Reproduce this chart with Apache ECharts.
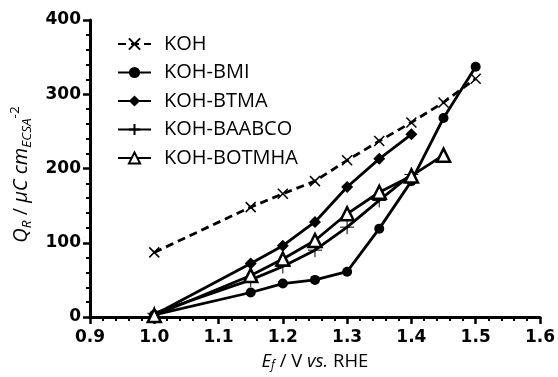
<!DOCTYPE html>
<html lang="en">
<head>
<meta charset="utf-8">
<title>QR vs Ef</title>
<style type="text/css">
  *{padding:0;margin:0;}
  body,html{background:#fff;}
  #chart{width:558px;height:377px;}
</style>
</head>
<body>
<div id="chart"></div>
<script src="https://cdn.jsdelivr.net/npm/echarts@6/dist/echarts.min.js"></script>
<script type="text/javascript">
// data (potential in V vs. RHE, charge in uC cm-2)
var seriesNames = ['KOH', 'KOH-BMI', 'KOH-BTMA', 'KOH-BAABCO', 'KOH-BOTMHA'];

var xKOH = [1.0, 1.15, 1.2, 1.25, 1.3, 1.35, 1.4, 1.45, 1.5];
var yKOH = [87, 148, 166, 183, 211, 237, 262, 289, 321];

var xBMI = [1.0, 1.15, 1.2, 1.25, 1.3, 1.35, 1.4, 1.45, 1.5];
var yBMI = [3, 33, 45, 50, 61, 119, 183, 268, 337];

var xBTMA = [1.0, 1.15, 1.2, 1.25, 1.3, 1.35, 1.4];
var yBTMA = [3, 72, 96, 128, 175, 213, 246];

var xBAABCO = [1.0, 1.15, 1.2, 1.25, 1.3, 1.35, 1.4];
var yBAABCO = [5, 50, 68, 90, 121, 157, 192];

var xBOTMHA = [1.0, 1.15, 1.2, 1.25, 1.3, 1.35, 1.4, 1.45];
var yBOTMHA = [2, 56, 78, 103, 139, 168, 190, 218];

function pairs(xs, ys) {
    var out = [];
    for (var i = 0; i < xs.length; i++) out.push([xs[i], ys[i]]);
    return out;
}

var crossPath = 'path://M0,0L10,10M10,0L0,10';
var plusPath = 'path://M5,0L5,10M0,5L10,5';

var chart = echarts.init(document.getElementById('chart'));

function lineSeries(name, data, symbol, size, item, dashed) {
    return {
        name: name,
        type: 'line',
        data: data,
        symbol: symbol,
        symbolSize: size,
        showAllSymbol: true,
        animation: false,
        lineStyle: { color: '#000', width: 2.8, type: dashed ? [8, 5] : 'solid' },
        itemStyle: item
    };
}

var option = {
    backgroundColor: '#fff',
    animation: false,
    grid: { left: 90, right: 18, top: 20, bottom: 58 },
    legend: {
        orient: 'vertical',
        left: 112,
        top: 28.5,
        itemWidth: 33,
        itemHeight: 14,
        itemGap: 7.5,
        data: seriesNames,
        textStyle: { fontFamily: 'Open Sans', fontSize: 20, lineHeight: 21, color: '#000', padding: [0, 0, 0, 8] }
    },
    xAxis: {
        type: 'value',
        min: 0.9,
        max: 1.6,
        interval: 0.1,
        name: '{i|E}{sub|f}{n| / V }{i|vs.}{n| RHE}',
        nameLocation: 'middle',
        nameGap: 34,
        nameTextStyle: {
            rich: {
                i: { fontFamily: 'Open Sans', fontSize: 18.5, fontStyle: 'italic', color: '#000' },
                n: { fontFamily: 'Open Sans', fontSize: 18.5, color: '#000' },
                sub: { fontFamily: 'Open Sans', fontSize: 12, fontStyle: 'italic', color: '#000', verticalAlign: 'bottom', padding: [9, 0, 0, 0] }
            }
        },
        splitLine: { show: false },
        axisLine: { onZero: false, lineStyle: { color: '#000', width: 3 } },
        axisTick: { length: 7, lineStyle: { color: '#000', width: 2.5 } },
        minorTick: { show: true, splitNumber: 5, length: 4, lineStyle: { color: '#000', width: 2 } },
        axisLabel: {
            margin: 12,
            fontFamily: 'DejaVu Sans',
            fontWeight: 'bold',
            fontSize: 17,
            color: '#000',
            formatter: function (v) { return v.toFixed(1); }
        }
    },
    yAxis: {
        type: 'value',
        min: 0,
        max: 400,
        interval: 100,
        name: '{i|Q}{sub|R}{n| / }{i|μC cm}{sub|ECSA}{sup|-2}',
        nameLocation: 'middle',
        nameRotate: 90,
        nameGap: 52,
        nameTextStyle: {
            padding: [0, 12, 0, 0],
            rich: {
                i: { fontFamily: 'Open Sans', fontSize: 20, fontStyle: 'italic', color: '#000' },
                n: { fontFamily: 'Open Sans', fontSize: 20, color: '#000' },
                sub: { fontFamily: 'Open Sans', fontSize: 13.5, fontStyle: 'italic', color: '#000', verticalAlign: 'bottom', padding: [10, 0, 0, 0] },
                sup: { fontFamily: 'Open Sans', fontSize: 13.5, color: '#000', verticalAlign: 'top', padding: [0, 0, 12, 0] }
            }
        },
        splitLine: { show: false },
        axisLine: { show: true, lineStyle: { color: '#000', width: 3 } },
        axisTick: { show: true, length: 7, lineStyle: { color: '#000', width: 2.5 } },
        minorTick: { show: true, splitNumber: 5, length: 4, lineStyle: { color: '#000', width: 2 } },
        axisLabel: {
            margin: 9,
            fontFamily: 'DejaVu Sans',
            fontWeight: 'bold',
            fontSize: 17,
            color: '#000'
        }
    },
    series: [
        lineSeries('KOH', pairs(xKOH, yKOH), crossPath, 10,
            { color: '#000', borderColor: '#000', borderWidth: 1.5 }, true),
        lineSeries('KOH-BMI', pairs(xBMI, yBMI), 'circle', 10,
            { color: '#000' }, false),
        lineSeries('KOH-BTMA', pairs(xBTMA, yBTMA), 'diamond', 12,
            { color: '#000' }, false),
        lineSeries('KOH-BAABCO', pairs(xBAABCO, yBAABCO), plusPath, 14,
            { color: '#000', borderColor: '#000', borderWidth: 1 }, false),
        lineSeries('KOH-BOTMHA', pairs(xBOTMHA, yBOTMHA), 'triangle', 13,
            { color: '#fff', borderColor: '#000', borderWidth: 2.5 }, false)
    ]
};

chart.setOption(option);
</script>
</body>
</html>
